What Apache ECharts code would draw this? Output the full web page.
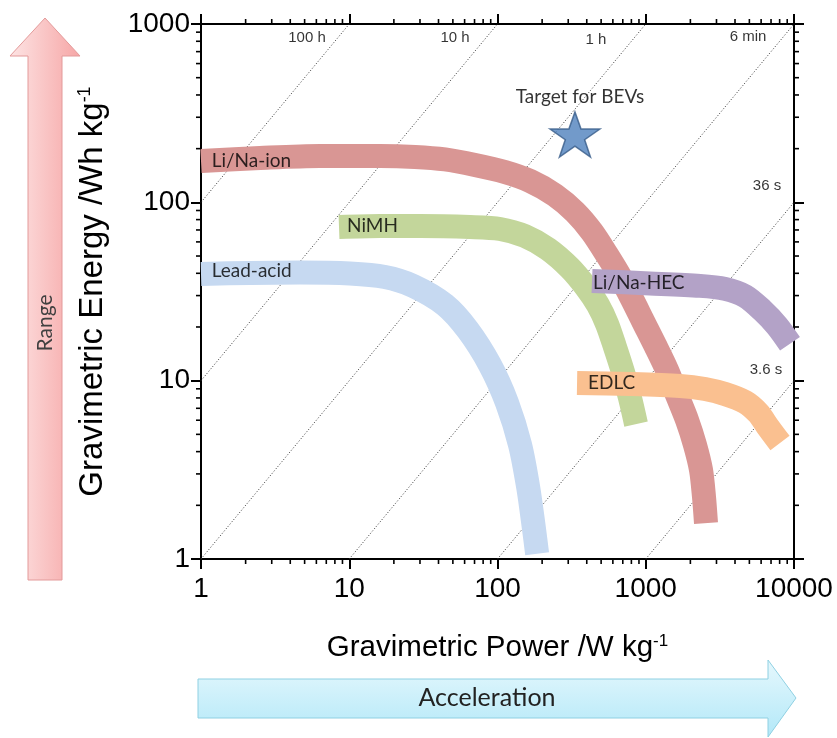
<!DOCTYPE html>
<html><head><meta charset="utf-8">
<script src="https://cdn.jsdelivr.net/npm/echarts@6/dist/echarts.min.js"></script>
<style>html,body{margin:0;padding:0;background:#fff}#c{width:837px;height:738px}</style>
</head><body><div id="c"></div>
<script>
// ---- tick labels ----
const powerTickLabels = ['1', '10', '100', '1000', '10000'];
const energyTickLabels = ['1', '10', '100', '1000'];

// ---- technology bands: [power W/kg, energy Wh/kg] ----
const liNaIon = [[1,170.5],[2.5,177.3],[6.35,181.9],[16.1,181.9],[27.8,179.6],[44.2,173.9],[70.5,162],[112,148],[166,131.7],[244,109.9],[333,88.3],[434,68.2],[548,50.7],[681,37.6],[808,28.7],[958,21.6],[1155,15.85],[1391,11.48],[1625,8.31],[1898,6.02],[2149,4.36],[2359,3.16],[2471,2.23],[2549,1.59]];
const nimh = [[8.53,72.7],[16.1,73.7],[30,73.7],[65.3,72.7],[104,70.9],[153,64.7],[219,54.7],[308,42.8],[395,33.5],[476,26.6],[548,20.8],[620,15.45],[702,11.19],[783,8.0],[860,5.71]];
const leadAcid = [[1,39.6],[2.14,40.2],[4.65,40.4],[10.1,39.9],[17.4,38.1],[26.9,34.0],[44.2,26.6],[63.2,19.2],[89,12.24],[116,7.5],[142,4.36],[161,2.53],[176,1.49],[185,1.07]];
const liNaHEC = [[434,36.2],[1068,35.1],[2323,34.0],[3424,32.7],[4673,29.8],[6084,24.9],[7681,20.3],[9397,16.1]];
const edlc = [[344,9.7],[783,9.58],[1702,9.34],[2510,8.98],[3424,8.42],[4673,7.59],[5719,6.59],[6676,5.5],[8045,4.47]];
const target = [[333,240]];

const bandNames = ['Li/Na-ion', 'NiMH', 'Lead-acid', 'Li/Na-HEC', 'EDLC'];
const bandLabelAnchors = [[1.18,170],[9.66,73.7],[1.18,41.2],[441,35.3],[408,9.7]];

// ---- constant discharge-time lines ----
const iso100h = [[1,100],[10,1000]];
const iso10h = [[1,10],[100,1000]];
const iso1h = [[1,1],[1000,1000]];
const iso6min = [[10,1],[10000,1000]];
const iso36s = [[100,1],[10000,100]];
const iso3p6s = [[1000,1],[10000,10]];
const timeLabels = ['100 h', '10 h', '1 h', '6 min', '36 s', '3.6 s'];
const timeLabelAnchors = [[5.19,835],[51.7,835],[462,813],[4895,846],[6577,123.5],[6473,11.5]];

const targetLabel = 'Target for BEVs';

// minor tick values 2..9 x 10^k
function minorVals(lo, hi) { const o = []; for (let d = lo; d < hi; d *= 10) for (let k = 2; k <= 9; k++) o.push(k * d); return o; }

const chart = echarts.init(document.getElementById('c'), null, {renderer: 'canvas'});

const AX = {color: '#000', width: 2};
const numFont = 'Liberation Sans, Arial, sans-serif';
const labFont = 'Lato, Carlito, sans-serif';

function axisBase(extra) {
  return Object.assign({
    type: 'log', logBase: 10,
    axisLine: {show: true, onZero: false, lineStyle: AX},
    axisTick: {show: true, inside: false, length: 10, lineStyle: AX},
    splitLine: {show: false},
    minorTick: {show: false}
  }, extra);
}

function band(name, data, color, z) {
  return {type: 'line', name, data, smooth: 0.3, symbol: 'none', showSymbol: false, clip: false, silent: true, z,
    lineStyle: {width: 24, color, cap: 'butt', join: 'round'}};
}
function iso(data) {
  return {type: 'line', data, symbol: 'none', silent: true, z: 1, lineStyle: {width: 1, color: '#333', type: [1, 2]}};
}

const nameRichX = {sup: {fontSize: 17, fontFamily: numFont, verticalAlign: 'top', color: '#000'}};
const nameRichY = {sup: {fontSize: 18, fontFamily: numFont, verticalAlign: 'top', color: '#000'}};

const option = {
  animation: false,
  grid: {left: 201, right: 43, top: 24, bottom: 179, containLabel: false},
  xAxis: [
    axisBase({position: 'bottom', min: 1, max: 10000, splitNumber: 4,
      axisLabel: {show: true, margin: 16, fontFamily: numFont, fontSize: 28, color: '#000',
        formatter: v => powerTickLabels[Math.round(Math.log10(v))]},
      name: 'Gravimetric Power /W kg{sup|-1}', nameLocation: 'middle', nameGap: 74,
      nameTextStyle: {fontFamily: numFont, fontSize: 29.5, color: '#000', rich: nameRichX}}),
    axisBase({position: 'top', min: 1, max: 10000, splitNumber: 4, axisLabel: {show: false}})
  ],
  yAxis: [
    axisBase({position: 'left', min: 1, max: 1000, splitNumber: 3,
      axisLabel: {show: true, margin: 11, fontFamily: numFont, fontSize: 28, color: '#000',
        formatter: v => energyTickLabels[Math.round(Math.log10(v))]},
      name: 'Gravimetric Energy /Wh kg{sup|-1}', nameLocation: 'middle', nameGap: 92,
      nameTextStyle: {fontFamily: numFont, fontSize: 33, color: '#000', rich: nameRichY}}),
    axisBase({position: 'right', min: 1, max: 1000, splitNumber: 3, axisLabel: {show: false}})
  ],
  series: [
    iso(iso100h), iso(iso10h), iso(iso1h), iso(iso6min), iso(iso36s), iso(iso3p6s),
    band('Li/Na-ion', liNaIon, '#d99694', 3),
    band('NiMH', nimh, '#c3d69b', 3),
    band('Lead-acid', leadAcid, '#c6d9f1', 3),
    band('Li/Na-HEC', liNaHEC, '#b3a2c7', 4),
    band('EDLC', edlc, '#fac090', 4),
    {type: 'custom', coordinateSystem: 'cartesian2d', silent: true, z: 6,
      data: minorVals(1, 10000).map(v => [v, 1]),
      renderItem: (p, api) => {
        const a = api.coord([api.value(0), 1]); const b = api.coord([api.value(0), 1000]);
        const st = {stroke: '#000', lineWidth: 1.6};
        return {type: 'group', children: [
          {type: 'line', shape: {x1: a[0], y1: a[1], x2: a[0], y2: a[1] + 5}, style: st},
          {type: 'line', shape: {x1: b[0], y1: b[1], x2: b[0], y2: b[1] - 5}, style: st}]};
      }},
    {type: 'custom', coordinateSystem: 'cartesian2d', silent: true, z: 6,
      data: minorVals(1, 1000).map(v => [1, v]),
      renderItem: (p, api) => {
        const a = api.coord([1, api.value(1)]); const b = api.coord([10000, api.value(1)]);
        const st = {stroke: '#000', lineWidth: 1.6};
        return {type: 'group', children: [
          {type: 'line', shape: {x1: a[0], y1: a[1], x2: a[0] - 5, y2: a[1]}, style: st},
          {type: 'line', shape: {x1: b[0], y1: b[1], x2: b[0] + 5, y2: b[1]}, style: st}]};
      }},
    {type: 'scatter', silent: true, z: 10, symbolSize: 0,
      data: bandLabelAnchors.map((a, i) => ({value: a, label: {formatter: bandNames[i]}})),
      label: {show: true, position: 'right', distance: 0, fontFamily: labFont, fontSize: 19, color: '#000'}},
    {type: 'scatter', silent: true, z: 10, symbolSize: 0,
      data: timeLabelAnchors.map((a, i) => ({value: a, label: {formatter: timeLabels[i]}})),
      label: {show: true, position: 'inside', fontFamily: numFont, fontSize: 15, color: '#000'}},
    {type: 'scatter', silent: true, z: 8, data: target,
      symbol: 'path://M50,0 L61.8,35.1 L98.9,35.1 L68.9,57 L80.3,92.7 L50,70.5 L19.7,92.7 L31.1,57 L1.1,35.1 L38.2,35.1 Z',
      symbolSize: [50, 45],
      itemStyle: {color: '#4f81bd', borderColor: '#385d8a', borderWidth: 1.5},
      label: {show: true, formatter: targetLabel, position: 'top', distance: 5, offset: [5, 0], fontFamily: labFont, fontSize: 19, color: '#000'}}
  ],
  graphic: [
    {type: 'polygon', z: -10, shape: {points: [[45,18],[80,56],[62,56],[62,580],[28,580],[28,56],[10,56]]},
      style: {fill: new echarts.graphic.LinearGradient(0, 0, 1, 0, [{offset: 0, color: '#fde4e4'}, {offset: 1, color: '#f6a6a6'}]), stroke: '#e39a9a', lineWidth: 1}},
    {type: 'text', z: -9, x: 45, y: 323, rotation: Math.PI / 2,
      style: {text: 'Range', fontFamily: labFont, fontSize: 21, fill: '#404040', align: 'center', verticalAlign: 'middle'}},
    {type: 'polygon', z: -10, shape: {points: [[198,679],[768,679],[768,660],[796,698],[768,737],[768,718],[198,718]]},
      style: {fill: new echarts.graphic.LinearGradient(0, 0, 0, 1, [{offset: 0, color: '#e6f8fd'}, {offset: 1, color: '#b2e8f8'}]), stroke: '#8fd0e2', lineWidth: 1}},
    {type: 'text', z: -9, x: 487, y: 698,
      style: {text: 'Acceleration', fontFamily: labFont, fontSize: 25, fill: '#222', align: 'center', verticalAlign: 'middle'}}
  ]
};
chart.setOption(option);
</script></body></html>
